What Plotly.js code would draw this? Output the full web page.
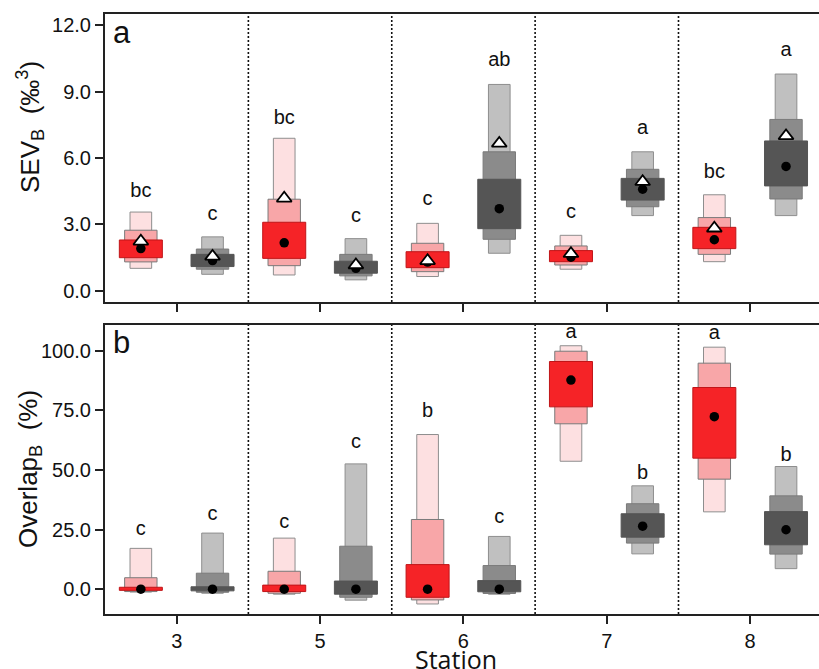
<!DOCTYPE html>
<html>
<head>
<meta charset="utf-8">
<script src="https://cdn.plot.ly/plotly-3.0.1.min.js"></script>
<style>html,body{margin:0;padding:0;background:#fff;}#chart{width:819px;height:669px;}</style>
</head>
<body>
<div id="chart"></div>
<script>
// ---------- data ----------
const stations = ['3', '5', '6', '7', '8'];
const separators = [0.5, 1.5, 2.5, 3.5];

// Panel a: SEV_B (‰^3) credible intervals
const sevRedLo95 = [1.02, 0.72, 0.65, 0.98, 1.32];
const sevRedHi95 = [3.56, 6.89, 3.05, 2.51, 4.34];
const sevRedLo75 = [1.31, 1.14, 0.87, 1.17, 1.65];
const sevRedHi75 = [2.74, 4.14, 2.15, 2.03, 3.31];
const sevRedLo50 = [1.50, 1.47, 1.05, 1.32, 1.91];
const sevRedHi50 = [2.30, 3.10, 1.77, 1.82, 2.87];
const sevRedMode = [1.91, 2.17, 1.30, 1.52, 2.31];
const sevRedMean = [2.24, 4.18, 1.36, 1.68, 2.83];

const sevGrayLo95 = [0.75, 0.50, 1.70, 3.40, 3.40];
const sevGrayHi95 = [2.44, 2.36, 9.32, 6.28, 9.79];
const sevGrayLo75 = [0.98, 0.68, 2.33, 3.80, 4.15];
const sevGrayHi75 = [1.89, 1.65, 6.28, 5.49, 7.74];
const sevGrayLo50 = [1.10, 0.80, 2.81, 4.10, 4.74];
const sevGrayHi50 = [1.65, 1.34, 5.04, 5.08, 6.77];
const sevGrayMode = [1.37, 1.02, 3.71, 4.59, 5.62];
const sevGrayMean = [1.56, 1.17, 6.66, 4.93, 7.00];

const sevRedLetters = ['bc', 'bc', 'c', 'c', 'bc'];
const sevRedLetterY = [4.48, 7.76, 4.10, 3.53, 5.31];
const sevGrayLetters = ['c', 'c', 'ab', 'a', 'a'];
const sevGrayLetterY = [3.43, 3.32, 10.37, 7.31, 10.83];

// Panel b: Overlap_B (%) credible intervals
const ovRedLo95 = [-1.2, -2.1, -6.2, 53.6, 32.4];
const ovRedHi95 = [17.1, 21.4, 64.8, 102.0, 101.4];
const ovRedLo75 = [-1.0, -1.7, -4.5, 69.3, 46.1];
const ovRedHi75 = [4.8, 7.5, 29.2, 99.7, 94.7];
const ovRedLo50 = [-0.5, -1.0, -3.4, 76.4, 54.9];
const ovRedHi50 = [0.8, 1.7, 10.3, 95.4, 84.5];
const ovRedMode = [0, 0, 0, 87.6, 72.3];

const ovGrayLo95 = [-1.7, -4.6, -2.1, 14.8, 8.6];
const ovGrayHi95 = [23.5, 52.5, 22.1, 43.3, 51.4];
const ovGrayLo75 = [-1.3, -3.4, -1.8, 19.3, 14.7];
const ovGrayHi75 = [6.7, 18.0, 9.9, 35.8, 39.1];
const ovGrayLo50 = [-0.7, -2.1, -1.1, 21.8, 18.6];
const ovGrayHi50 = [1.0, 3.4, 3.6, 31.6, 32.5];
const ovGrayMode = [0, 0, 0, 26.4, 24.9];

const ovRedLetters = ['c', 'c', 'b', 'a', 'a'];
const ovRedLetterY = [24.6, 27.7, 74.4, 107.5, 107.0];
const ovGrayLetters = ['c', 'c', 'c', 'b', 'b'];
const ovGrayLetterY = [31.1, 61.2, 29.8, 48.2, 56.0];

const sevTicks = [0, 3, 6, 9, 12];
const ovTicks = [0, 25, 50, 75, 100];

// ---------- build ----------
const FONT = 'Liberation Sans, Arial, sans-serif';
const idx = stations.map((_, i) => i);
const redX = idx.map(i => i - 0.25);
const grayX = idx.map(i => i + 0.25);

const RED = ['#fde0e1', '#f8a6a8', '#f52327'];
const GRAY = ['#c0c0c0', '#8b8b8b', '#555555'];
const EDGE = ['#8e8e8e', '#7a7a7a', '#555555'];
const WIDTHS = [0.151, 0.226, 0.30];

function boxTrace(xs, lo, hi, level, palette, xa, ya) {
  return {
    type: 'bar', x: xs, base: lo,
    y: hi.map((h, i) => h - lo[i]),
    width: xs.map(() => WIDTHS[level]),
    marker: {color: palette[level], line: {color: palette === RED && level === 2 ? '#c01518' : EDGE[level], width: 1}},
    xaxis: xa, yaxis: ya, hoverinfo: 'skip', showlegend: false
  };
}
function group(xs, los, his, palette, xa, ya) {
  return [0, 1, 2].map(l => boxTrace(xs, los[l], his[l], l, palette, xa, ya));
}
function dots(xs, ys, xa, ya) {
  return {type: 'scatter', mode: 'markers', x: xs, y: ys, xaxis: xa, yaxis: ya,
    marker: {symbol: 'circle', size: 9.5, color: '#000'}, hoverinfo: 'skip', showlegend: false};
}
function tris(xs, ys, xa, ya) {
  return {type: 'scatter', mode: 'markers', x: xs, y: ys, xaxis: xa, yaxis: ya,
    marker: {symbol: 'triangle-up', size: 13, color: '#fff', line: {color: '#000', width: 1.8}},
    hoverinfo: 'skip', showlegend: false};
}
function letters(xs, ys, txt, xa, ya) {
  return {type: 'scatter', mode: 'text', x: xs, y: ys, text: txt, textposition: 'middle center',
    textfont: {family: FONT, size: 20, color: '#111'}, xaxis: xa, yaxis: ya, hoverinfo: 'skip', showlegend: false};
}

const traces = [].concat(
  group(redX, [sevRedLo95, sevRedLo75, sevRedLo50], [sevRedHi95, sevRedHi75, sevRedHi50], RED, 'x', 'y'),
  group(grayX, [sevGrayLo95, sevGrayLo75, sevGrayLo50], [sevGrayHi95, sevGrayHi75, sevGrayHi50], GRAY, 'x', 'y'),
  [dots(redX, sevRedMode, 'x', 'y'), dots(grayX, sevGrayMode, 'x', 'y'),
   tris(redX, sevRedMean, 'x', 'y'), tris(grayX, sevGrayMean, 'x', 'y'),
   letters(redX, sevRedLetterY, sevRedLetters, 'x', 'y'), letters(grayX, sevGrayLetterY, sevGrayLetters, 'x', 'y')],
  group(redX, [ovRedLo95, ovRedLo75, ovRedLo50], [ovRedHi95, ovRedHi75, ovRedHi50], RED, 'x2', 'y2'),
  group(grayX, [ovGrayLo95, ovGrayLo75, ovGrayLo50], [ovGrayHi95, ovGrayHi75, ovGrayHi50], GRAY, 'x2', 'y2'),
  [dots(redX, ovRedMode, 'x2', 'y2'), dots(grayX, ovGrayMode, 'x2', 'y2'),
   letters(redX, ovRedLetterY, ovRedLetters, 'x2', 'y2'), letters(grayX, ovGrayLetterY, ovGrayLetters, 'x2', 'y2')]
);

const axLine = {showline: true, linecolor: '#222', linewidth: 2, ticks: 'outside', ticklen: 8, tickwidth: 2,
  tickcolor: '#222', showgrid: false, zeroline: false, tickfont: {family: FONT, size: 20, color: '#111'}};

const xBase = Object.assign({}, axLine, {range: [-0.5, 4.48], tickvals: idx, ticktext: stations, mirror: true, fixedrange: true});

const shapes = [];
separators.forEach(s => {
  ['y', 'y2'].forEach((ya, k) => {
    shapes.push({type: 'line', xref: k ? 'x2' : 'x', yref: ya + ' domain', x0: s, x1: s, y0: 0, y1: 1,
      line: {color: '#111', width: 1.6, dash: '2px,2px'}, layer: 'below'});
  });
});

const layout = {
  width: 819, height: 669,
  margin: {l: 105, r: 0, t: 14, b: 55},
  paper_bgcolor: '#fff', plot_bgcolor: '#fff',
  barmode: 'overlay', showlegend: false, hovermode: false,
  font: {family: FONT, color: '#111'},
  xaxis: Object.assign({}, xBase, {anchor: 'y', showticklabels: false}),
  xaxis2: Object.assign({}, xBase, {anchor: 'y2', showticklabels: true}),
  yaxis: Object.assign({}, axLine, {domain: [0.52, 1], anchor: 'x', range: [-0.5, 12.5], tickvals: sevTicks, tickformat: '.1f'}),
  yaxis2: Object.assign({}, axLine, {domain: [0, 0.4817], anchor: 'x2', range: [-10.4, 110.7], tickvals: ovTicks, tickformat: '.1f'}),
  shapes: shapes,
  annotations: [
    {xref: 'paper', yref: 'paper', x: 0, xshift: -75, y: 0.8117, xanchor: 'center', yanchor: 'middle', textangle: -90,
     text: 'SEV<sub>B</sub>\u00a0\u00a0(\u2030<sup>3</sup>)', showarrow: false, font: {family: FONT, size: 26, color: '#111'}},
    {xref: 'paper', yref: 'paper', x: 0, xshift: -75, y: 0.2417, xanchor: 'center', yanchor: 'middle', textangle: -90,
     text: 'Overlap<sub>B</sub>\u00a0\u00a0(%)', showarrow: false, font: {family: FONT, size: 26, color: '#111'}},
    {xref: 'x2', yref: 'paper', x: 1.95, y: 0, yshift: -45, xanchor: 'center', yanchor: 'middle',
     text: 'Station', showarrow: false, font: {family: 'Open Sans, DejaVu Sans, sans-serif', size: 25, color: '#111'}},
    {xref: 'x domain', yref: 'y domain', x: 0, xshift: 6, y: 1, yshift: 1, xanchor: 'left', yanchor: 'top',
     text: 'a', showarrow: false, font: {family: FONT, size: 31, color: '#111'}},
    {xref: 'x2 domain', yref: 'y2 domain', x: 0, xshift: 6, y: 1, yshift: 2, xanchor: 'left', yanchor: 'top',
     text: 'b', showarrow: false, font: {family: FONT, size: 31, color: '#111'}}
  ]
};

Plotly.newPlot('chart', traces, layout, {staticPlot: true, displayModeBar: false});
</script>
</body>
</html>
